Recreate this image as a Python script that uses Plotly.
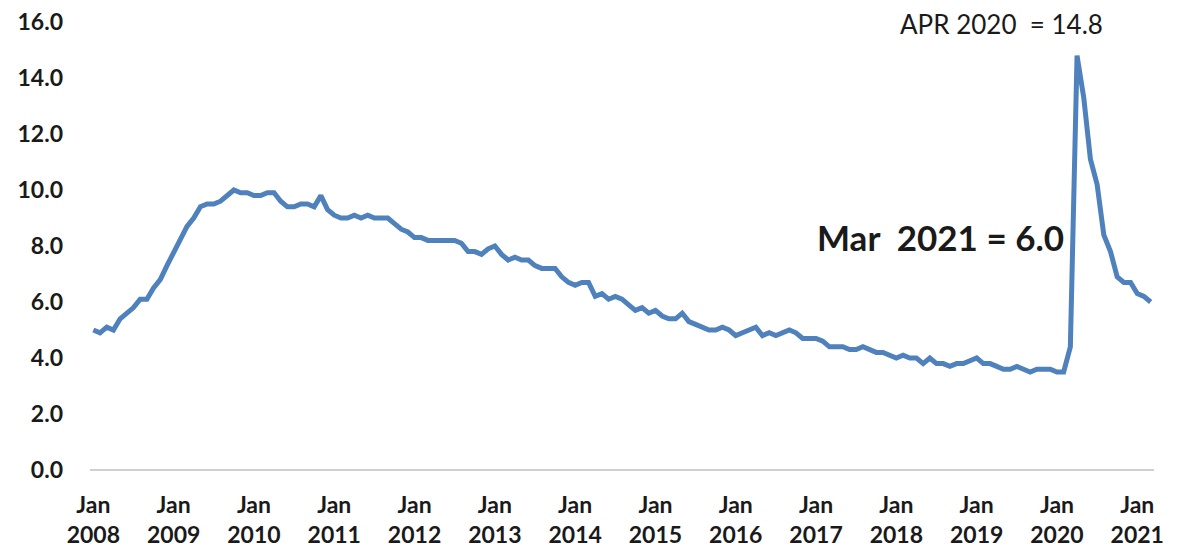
import plotly.graph_objects as go

# US unemployment rate, monthly, Jan 2008 - Mar 2021 (%)
rate_2008 = [5.0, 4.9, 5.1, 5.0, 5.4, 5.6, 5.8, 6.1, 6.1, 6.5, 6.8, 7.3]
rate_2009 = [7.8, 8.3, 8.7, 9.0, 9.4, 9.5, 9.5, 9.6, 9.8, 10.0, 9.9, 9.9]
rate_2010 = [9.8, 9.8, 9.9, 9.9, 9.6, 9.4, 9.4, 9.5, 9.5, 9.4, 9.8, 9.3]
rate_2011 = [9.1, 9.0, 9.0, 9.1, 9.0, 9.1, 9.0, 9.0, 9.0, 8.8, 8.6, 8.5]
rate_2012 = [8.3, 8.3, 8.2, 8.2, 8.2, 8.2, 8.2, 8.1, 7.8, 7.8, 7.7, 7.9]
rate_2013 = [8.0, 7.7, 7.5, 7.6, 7.5, 7.5, 7.3, 7.2, 7.2, 7.2, 6.9, 6.7]
rate_2014 = [6.6, 6.7, 6.7, 6.2, 6.3, 6.1, 6.2, 6.1, 5.9, 5.7, 5.8, 5.6]
rate_2015 = [5.7, 5.5, 5.4, 5.4, 5.6, 5.3, 5.2, 5.1, 5.0, 5.0, 5.1, 5.0]
rate_2016 = [4.8, 4.9, 5.0, 5.1, 4.8, 4.9, 4.8, 4.9, 5.0, 4.9, 4.7, 4.7]
rate_2017 = [4.7, 4.6, 4.4, 4.4, 4.4, 4.3, 4.3, 4.4, 4.3, 4.2, 4.2, 4.1]
rate_2018 = [4.0, 4.1, 4.0, 4.0, 3.8, 4.0, 3.8, 3.8, 3.7, 3.8, 3.8, 3.9]
rate_2019 = [4.0, 3.8, 3.8, 3.7, 3.6, 3.6, 3.7, 3.6, 3.5, 3.6, 3.6, 3.6]
rate_2020 = [3.5, 3.5, 4.4, 14.8, 13.3, 11.1, 10.2, 8.4, 7.8, 6.9, 6.7, 6.7]
rate_2021 = [6.3, 6.2, 6.0]

rates = (rate_2008 + rate_2009 + rate_2010 + rate_2011 + rate_2012 + rate_2013
         + rate_2014 + rate_2015 + rate_2016 + rate_2017 + rate_2018 + rate_2019
         + rate_2020 + rate_2021)
month_index = list(range(len(rates)))

years = list(range(2008, 2022))
tick_positions = [12 * i for i in range(len(years))]
tick_labels = [f"Jan<br>{y}" for y in years]

y_ticks = [0, 2, 4, 6, 8, 10, 12, 14, 16]
y_tick_labels = [f"{v:.1f}" for v in y_ticks]

FONT = "Lato"
NB = "\u00a0"

fig = go.Figure()
fig.add_trace(go.Scatter(
    x=month_index, y=rates, mode="lines",
    line=dict(color="#4F81BD", width=5),
    hoverinfo="skip", showlegend=False,
))

fig.update_layout(
    width=1169, height=542,
    margin=dict(l=82, r=23, t=14, b=80),
    paper_bgcolor="white", plot_bgcolor="white",
    font=dict(family=FONT, color="#1a1a1a"),
    xaxis=dict(
        range=[-0.5, 158.5], automargin=False,
        tickmode="array", tickvals=tick_positions, ticktext=tick_labels,
        tickfont=dict(family=FONT, size=23, color="#1a1a1a", weight="bold"),
        showgrid=False, zeroline=False, ticklabeloverflow="allow",
        showline=False, ticks="", ticklabelstandoff=19,
    ),
    yaxis=dict(
        range=[0, 16], automargin=False,
        tickmode="array", tickvals=y_ticks, ticktext=y_tick_labels,
        tickfont=dict(family=FONT, size=23, color="#1a1a1a", weight="bold"),
        showgrid=False, zeroline=True, zerolinecolor="#d0d0d0", zerolinewidth=1.5,
        showline=False, ticks="", ticklabelstandoff=26, ticklabeloverflow="allow",
    ),
    annotations=[
        dict(text=f"APR 2020 {NB}= 14.8", xref="paper", yref="paper",
             x=0.857, y=0.9955, showarrow=False, xanchor="center", yanchor="middle",
             font=dict(family=FONT, size=26, color="#1a1a1a")),
        dict(text=f"Mar {NB}2021 = 6.0", xref="paper", yref="paper",
             x=0.799, y=0.52, showarrow=False, xanchor="center", yanchor="middle",
             font=dict(family=FONT, size=35, color="#1a1a1a", weight="bold")),
    ],
)

fig.write_html("out.html")
